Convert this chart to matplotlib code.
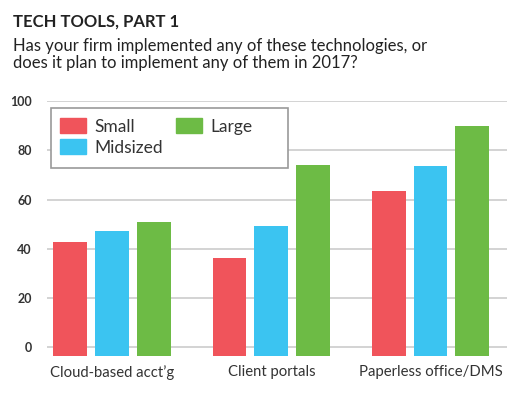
import numpy as np
import matplotlib
matplotlib.use("Agg")
import matplotlib.pyplot as plt
from matplotlib.patches import Rectangle, Patch

# --- data ---
categories = ["Cloud-based acct\u2019g", "Client portals", "Paperless office/DMS"]
series_names = ["Small", "Midsized", "Large"]
small_vals = [42.5, 36, 63.5]
midsized_vals = [47, 49, 73.5]
large_vals = [51, 74, 90]
y_ticks = [0, 20, 40, 60, 80, 100]

colors = ["#F0545B", "#3BC4F1", "#6DBB45"]
text_color = "#333333"

plt.rcParams['font.family'] = ['Lato', 'DejaVu Sans']

fig = plt.figure(figsize=(5.31, 3.95), dpi=100)
ax = fig.add_axes([0.0885, 0.0995, 0.866, 0.6456])

# bars, grouped by category
x = np.arange(len(categories))
bar_w = 0.213
step = 0.263
base = -3.7
for i, (name, vals) in enumerate(zip(series_names, [small_vals, midsized_vals, large_vals])):
    vals = np.array(vals)
    ax.bar(x + (i - 1) * step, vals - base, bottom=base, width=bar_w,
           color=colors[i], label=name, zorder=2)

ax.set_xlim(-0.41, 2.48)
ax.set_ylim(base, 100.3)

# grid and axes styling
ax.set_yticks(y_ticks)
ax.yaxis.grid(True, color="#d0d0d0", linewidth=1.3, zorder=0)
ax.set_axisbelow(True)
for s in ax.spines.values():
    s.set_visible(False)
ax.tick_params(axis="y", length=0, pad=11, labelsize=9, labelcolor=text_color)
for lbl in ax.get_yticklabels():
    lbl.set_fontweight("bold")
ax.set_xticks(x)
ax.set_xticklabels(categories, fontsize=10.7, color=text_color)
ax.tick_params(axis="x", length=0, pad=7)

# legend box (opaque white, drawn over gridlines)
box = Rectangle((0.0087, 0.735), 0.515, 0.238, transform=ax.transAxes,
                facecolor="white", edgecolor="#9a9a9a", linewidth=1.2, zorder=3)
ax.add_patch(box)
handles = [Patch(color=c) for c in colors]
leg = ax.legend(handles, series_names, ncol=2, loc="upper left",
                bbox_to_anchor=(-0.003, 0.987), frameon=False,
                fontsize=12.5, handlelength=1.5, handleheight=1.0,
                handletextpad=0.5, columnspacing=0.75, labelspacing=0.25,
                borderpad=0.3, labelcolor="#333333")
leg.set_zorder(4)

# title and subtitle
fig.text(0.025, 0.934, "TECH TOOLS, PART 1", fontsize=12, fontweight="bold",
         color="#222222", va="baseline")
fig.text(0.025, 0.871, "Has your firm implemented any of these technologies, or",
         fontsize=12, color="#222222", va="baseline")
fig.text(0.025, 0.829, "does it plan to implement any of them in 2017?",
         fontsize=12, color="#222222", va="baseline")

plt.savefig("out.png", dpi=100)
